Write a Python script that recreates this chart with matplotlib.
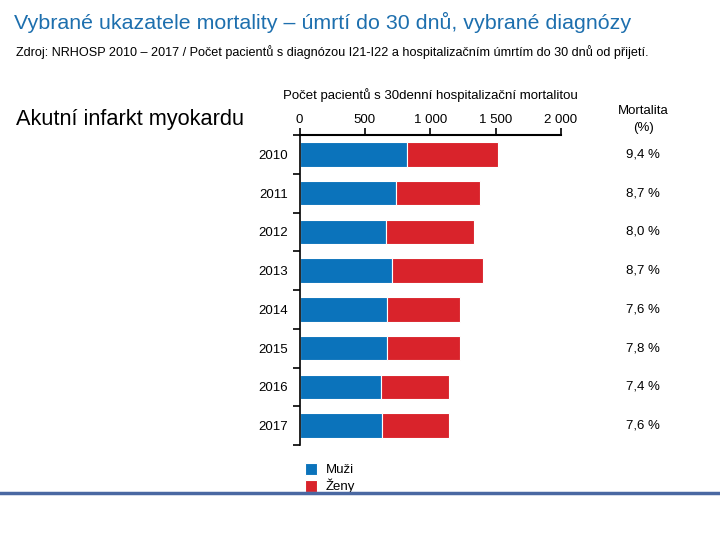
import matplotlib
matplotlib.use("Agg")
import matplotlib.pyplot as plt
from matplotlib.lines import Line2D

years = ["2010", "2011", "2012", "2013", "2014", "2015", "2016", "2017"]
muzi = [819, 737, 659, 706, 672, 672, 621, 629]
zeny = [696, 646, 676, 700, 552, 552, 526, 518]
mortalita = ["9,4 %", "8,7 %", "8,0 %", "8,7 %", "7,6 %", "7,8 %", "7,4 %", "7,6 %"]
xticks = [0, 500, 1000, 1500, 2000]
xtick_labels = ["0", "500", "1 000", "1 500", "2 000"]

BLUE = "#0b73bb"
RED = "#d9232b"
TITLE_BLUE = "#1d6fae"
NARROW = ["Liberation Sans", "DejaVu Sans"]
ARIAL = ["Liberation Sans", "DejaVu Sans"]

W, H = 720, 540
fig = plt.figure(figsize=(7.2, 5.4), dpi=100)

def fx(px):
    return px / W

def fy(py):
    return 1 - py / H

fig.text(fx(14), fy(22), "Vybrané ukazatele mortality – úmrtí do 30 dnů, vybrané diagnózy",
         family=ARIAL, fontsize=15.4, color=TITLE_BLUE, va="center", ha="left")
fig.text(fx(16), fy(52), "Zdroj: NRHOSP 2010 – 2017 / Počet pacientů s diagnózou I21-I22 a hospitalizačním úmrtím do 30 dnů od přijetí.",
         family=NARROW, fontsize=9.1, color="black", va="center", ha="left")
fig.text(fx(16), fy(120), "Akutní infarkt myokardu",
         family=ARIAL, fontsize=15.7, color="black", va="center", ha="left")

ax_l, ax_r, ax_t, ax_b = 299.5, 561, 135, 445
ax = fig.add_axes([fx(ax_l), fy(ax_b), fx(ax_r - ax_l), (ax_b - ax_t) / H])

pos = list(range(len(years)))
ax.barh(pos, muzi, height=0.63, color=BLUE, edgecolor="white", linewidth=0.8, label="Muži")
ax.barh(pos, zeny, left=muzi, height=0.63, color=RED, edgecolor="white", linewidth=0.8, label="Ženy")

ax.set_xlim(0, 2000)
ax.set_ylim(len(years) - 0.5, -0.5)
for s in ["right", "bottom"]:
    ax.spines[s].set_visible(False)
ax.spines["top"].set_linewidth(1.5)
ax.spines["left"].set_linewidth(1.2)

ax.xaxis.tick_top()
ax.set_xticks(xticks)
ax.set_xticklabels(xtick_labels, family=NARROW, fontsize=9.5)
ax.tick_params(axis="x", direction="out", length=5, width=1.2, pad=1.5)
ax.set_xlabel("Počet pacientů s 30denní hospitalizační mortalitou", family=NARROW, fontsize=9.5, labelpad=11)
ax.xaxis.set_label_position("top")

ax.set_yticks(pos)
ax.set_yticklabels(years, family=ARIAL, fontsize=9.5)
ax.tick_params(axis="y", which="major", length=0, pad=8)
ax.set_yticks([p - 0.5 for p in pos] + [len(years) - 0.5], minor=True)
ax.tick_params(axis="y", which="minor", direction="out", length=5, width=1.2)

for p, m in zip(pos, mortalita):
    ax.annotate(m, xy=(1, p), xycoords=("axes fraction", "data"), xytext=(59, 0),
                textcoords="offset points", ha="center", va="center",
                family=ARIAL, fontsize=9.5)

fig.text(fx(643), fy(119.5), "Mortalita\n(%)", family=ARIAL, fontsize=9.5,
         ha="center", va="center", linespacing=1.5)

leg = ax.legend(loc="upper left", bbox_to_anchor=(0.005, -0.045), frameon=False,
                prop={"family": NARROW, "size": 9.5}, handlelength=0.9,
                handleheight=1.0, handletextpad=0.7, labelspacing=0.2,
                borderaxespad=0, borderpad=0.3)

fig.add_artist(Line2D([0, 1], [fy(493), fy(493)], color="#4a68a2", linewidth=2.5,
                      transform=fig.transFigure))

fig.savefig("out.png", dpi=100)
